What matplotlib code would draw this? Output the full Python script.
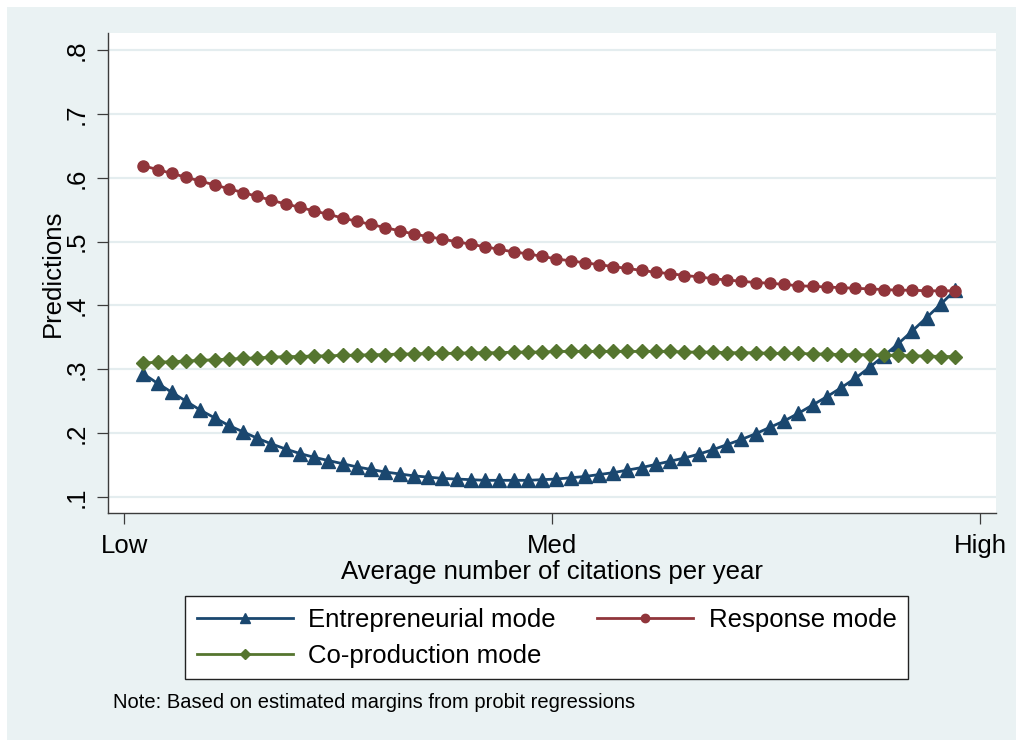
import matplotlib
matplotlib.use("Agg")
import matplotlib.pyplot as plt
from matplotlib.patches import Rectangle
import numpy as np

plt.rcParams['font.family'] = ['Liberation Sans', 'DejaVu Sans']

# predicted probabilities over 58 points of the citations scale
entrepreneurial = [0.293, 0.278, 0.264, 0.250, 0.236, 0.224, 0.212, 0.202, 0.192, 0.183,
                   0.175, 0.168, 0.162, 0.157, 0.152, 0.147, 0.143, 0.139, 0.136, 0.133,
                   0.131, 0.129, 0.128, 0.127, 0.126, 0.126, 0.126, 0.126, 0.127, 0.128,
                   0.130, 0.132, 0.135, 0.138, 0.142, 0.146, 0.151, 0.156, 0.161, 0.167,
                   0.174, 0.182, 0.190, 0.199, 0.209, 0.219, 0.231, 0.244, 0.257, 0.271,
                   0.286, 0.303, 0.321, 0.340, 0.360, 0.381, 0.402, 0.424]
response = [0.619, 0.613, 0.607, 0.601, 0.595, 0.589, 0.583, 0.577, 0.571, 0.565,
            0.559, 0.554, 0.548, 0.543, 0.537, 0.532, 0.527, 0.522, 0.517, 0.512,
            0.508, 0.504, 0.500, 0.496, 0.492, 0.488, 0.484, 0.481, 0.477, 0.473,
            0.470, 0.467, 0.464, 0.461, 0.458, 0.455, 0.452, 0.450, 0.447, 0.445,
            0.442, 0.440, 0.438, 0.436, 0.435, 0.433, 0.431, 0.430, 0.429, 0.428,
            0.427, 0.426, 0.425, 0.424, 0.424, 0.423, 0.423, 0.423]
coproduction = [0.310, 0.311, 0.312, 0.313, 0.314, 0.315, 0.316, 0.317, 0.318, 0.319,
                0.320, 0.320, 0.321, 0.321, 0.322, 0.322, 0.323, 0.323, 0.324, 0.324,
                0.325, 0.325, 0.325, 0.326, 0.326, 0.326, 0.327, 0.327, 0.327, 0.328,
                0.328, 0.328, 0.328, 0.328, 0.328, 0.328, 0.328, 0.328, 0.327, 0.327,
                0.327, 0.326, 0.326, 0.326, 0.325, 0.325, 0.325, 0.324, 0.324, 0.323,
                0.323, 0.323, 0.322, 0.322, 0.321, 0.321, 0.320, 0.320]
x = np.arange(len(response))

xtick_pos = [-1.35, 28.7, 58.75]
xtick_labels = ["Low", "Med", "High"]
yticks = [0.1, 0.2, 0.3, 0.4, 0.5, 0.6, 0.7, 0.8]
ytick_labels = [".1", ".2", ".3", ".4", ".5", ".6", ".7", ".8"]

navy = "#1A476F"
maroon = "#90353B"
green = "#55752F"
bg = "#EAF2F3"
axcol = "#3C3C3C"

fig = plt.figure(figsize=(10.16, 7.4), dpi=100, facecolor="white")
fig.patches.append(Rectangle((7 / 1016, 0), 1, 1 - 7 / 740, transform=fig.transFigure,
                             facecolor=bg, edgecolor="none", zorder=-10))

ax = fig.add_axes([108.3 / 1016, 1 - 513.3 / 740, (996 - 108.3) / 1016, (513.3 - 33) / 740])
ax.set_facecolor("white")

l1, = ax.plot(x, entrepreneurial, color=navy, lw=2, marker="^", ms=9.5, label="Entrepreneurial mode")
l2, = ax.plot(x, response, color=maroon, lw=2, marker="o", ms=8, label="Response mode")
l3, = ax.plot(x, coproduction, color=green, lw=2, marker="D", ms=6.8, label="Co-production mode")

ax.set_xlim(-2.46, 59.88)
ax.set_ylim(0.0743, 0.8271)
ax.set_xticks(xtick_pos, xtick_labels)
ax.set_yticks(yticks, ytick_labels)
ax.grid(axis="y", color="#E4EDEF", lw=1.6)
ax.set_axisbelow(True)

for s in ["top", "right"]:
    ax.spines[s].set_visible(False)
for s in ["left", "bottom"]:
    ax.spines[s].set_color(axcol)
    ax.spines[s].set_linewidth(1.0)

ax.tick_params(direction="out", length=8, width=0.9, color=axcol, labelsize=18.5, pad=6)
ax.tick_params(axis="x", pad=7)
for lab in ax.get_yticklabels():
    lab.set_rotation(90)
    lab.set_va("center")

ax.set_ylabel("Predictions", fontsize=18.5, labelpad=0)
ax.set_xlabel("Average number of citations per year", fontsize=18.5, labelpad=1)

leg = fig.legend([l1, l3, l2], ["Entrepreneurial mode", "Co-production mode", "Response mode"],
                 ncol=2, loc="upper left", bbox_to_anchor=(185 / 1016, 1 - 596 / 740),
                 borderaxespad=0, fontsize=18.5, frameon=True, fancybox=False,
                 edgecolor="#222222", framealpha=1, handlelength=3.75, handletextpad=0.6,
                 columnspacing=1.6, labelspacing=0.48, borderpad=0.45, markerscale=0.75)
leg.get_frame().set_linewidth(1.0)

fig.text(113 / 1016, 1 - 703 / 740, "Note: Based on estimated margins from probit regressions",
         fontsize=14.5, va="center", ha="left")

fig.savefig("out.png", dpi=100, facecolor=fig.get_facecolor())
